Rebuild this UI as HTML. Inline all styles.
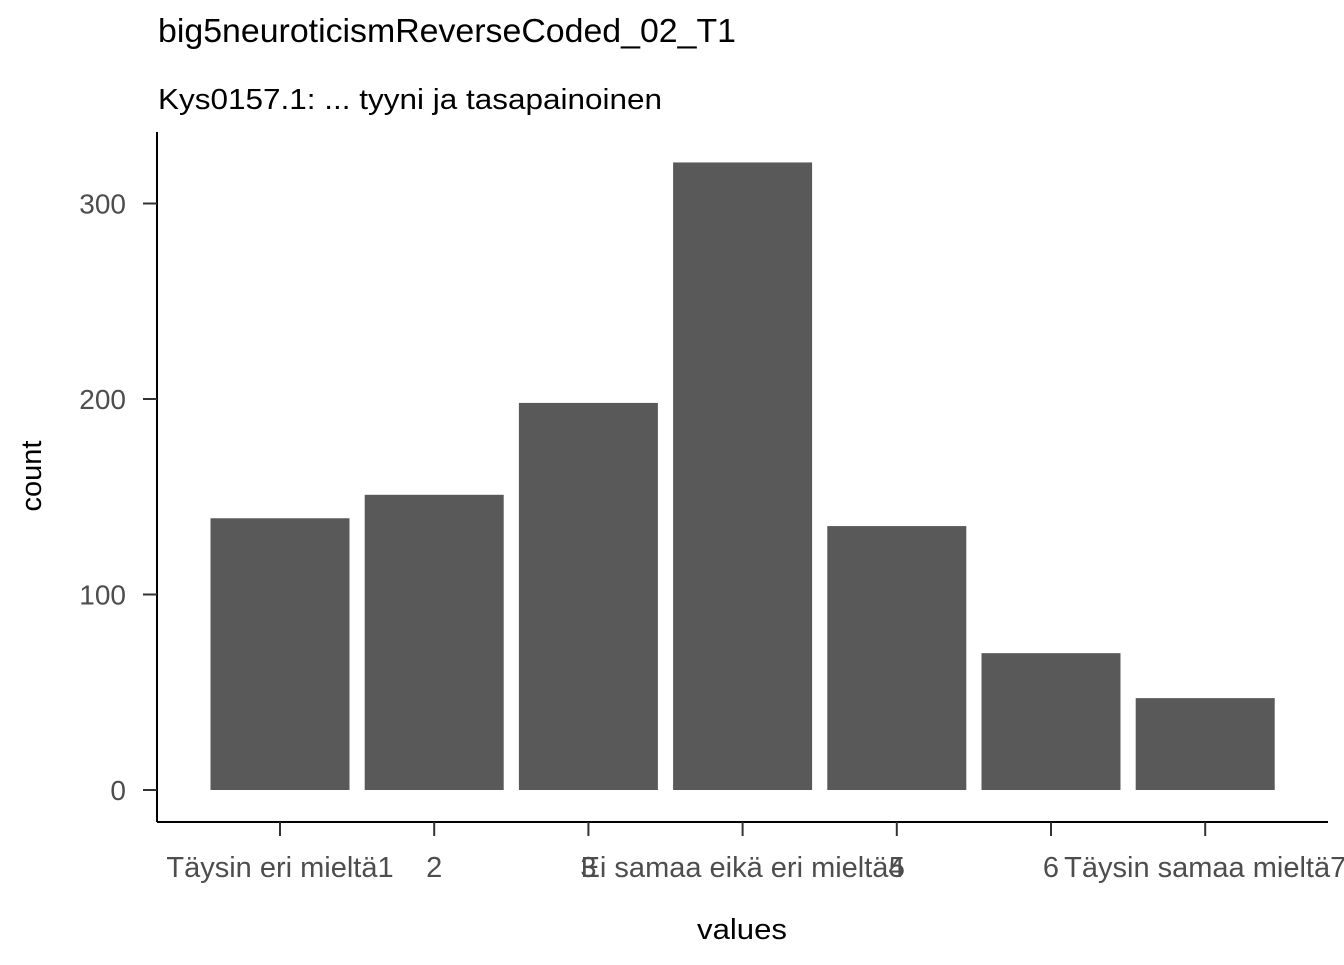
<!DOCTYPE html>
<html><head><meta charset="utf-8"><style>
body{margin:0;background:#fff}
svg text{font-family:"Liberation Sans",Arial,sans-serif}
</style></head><body>
<svg width="1344" height="960" xmlns="http://www.w3.org/2000/svg">
<text x="158" y="42" font-size="33" textLength="578" lengthAdjust="spacingAndGlyphs" fill="#000">big5neuroticismReverseCoded_02_T1</text>
<text x="158" y="109" font-size="29" textLength="504" lengthAdjust="spacingAndGlyphs" fill="#000">Kys0157.1: ... tyyni ja tasapainoinen</text>
<g id="bars"></g>
<g id="axes"></g>
<text x="742" y="939" font-size="29" textLength="90" lengthAdjust="spacingAndGlyphs" text-anchor="middle" fill="#000">values</text>
<text transform="translate(41,476) rotate(-90)" font-size="29" text-anchor="middle" fill="#000">count</text>
</svg>
<script>
const categories = ["Täysin eri mieltä1","2","3","Ei samaa eikä eri mieltä4","5","6","Täysin samaa mieltä7"];
const counts = [139, 151, 198, 321, 135, 70, 47];
const yTicks = [0, 100, 200, 300];
const NS = "http://www.w3.org/2000/svg";
const x0 = 157, x1 = 1328, yBase = 790, pxPerUnit = 1.955;
const step = 154.2, firstCenter = 280, barW = 139;
function xScale(i){ return firstCenter + i*step; }
function yScale(v){ return yBase - v*pxPerUnit; }
const bars = document.getElementById('bars');
const axes = document.getElementById('axes');
function mk(tag, attrs, parent){ const e=document.createElementNS(NS,tag); for(const k in attrs) e.setAttribute(k,attrs[k]); parent.appendChild(e); return e; }
counts.forEach((v,i)=>{
  const r = mk('rect',{x:xScale(i)-barW/2,y:yScale(v),width:barW,height:yBase-yScale(v),fill:'#595959'},bars);
  
  
});
const yl = mk('line',{x1:x0,y1:132,x2:x0,y2:822,stroke:'#000','stroke-width':2},axes);


const xl = mk('line',{x1:x0,y1:822,x2:x1,y2:822,stroke:'#000','stroke-width':2},axes);


yTicks.forEach(t=>{
  const y=yScale(t);
  const tk = mk('line',{x1:143,y1:y,x2:x0,y2:y,stroke:'#333','stroke-width':2},axes);
  
  
  const tx = mk('text',{x:126,y:y+10,'font-size':28,'text-anchor':'end',fill:'#4d4d4d'},axes);
  tx.textContent=t;
  
  
});
categories.forEach((c,i)=>{
  const x=xScale(i);
  const tk = mk('line',{x1:x,y1:822,x2:x,y2:836,stroke:'#333','stroke-width':2},axes);
  
  
  const tx = mk('text',{x:x,y:877,'font-size':29,'text-anchor':'middle',fill:'#4d4d4d'},axes);
  tx.textContent=c;
  
  
});
</script>
</body></html>
